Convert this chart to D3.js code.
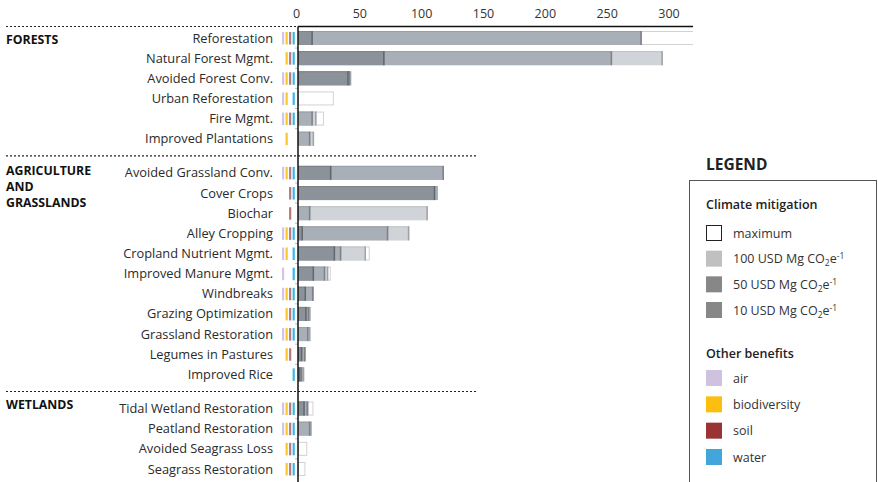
<!DOCTYPE html>
<html>
<head>
<meta charset="utf-8">
<script src="https://cdn.jsdelivr.net/npm/d3@7"></script>
<style>
  html, body { margin: 0; padding: 0; background: #fff; }
  svg { display: block; font-family: "Open Sans", "Noto Sans", sans-serif; }
</style>
</head>
<body>
<svg id="chart" width="878" height="482"></svg>
<script>
// Natural climate solutions: mitigation potential per pathway at three cost levels,
// plus the co-benefits each pathway delivers.
const groupNames = [["FORESTS"], ["AGRICULTURE", "AND", "GRASSLANDS"], ["WETLANDS"]];
const pathways = [
  "Reforestation", "Natural Forest Mgmt.", "Avoided Forest Conv.", "Urban Reforestation",
  "Fire Mgmt.", "Improved Plantations",
  "Avoided Grassland Conv.", "Cover Crops", "Biochar", "Alley Cropping",
  "Cropland Nutrient Mgmt.", "Improved Manure Mgmt.", "Windbreaks", "Grazing Optimization",
  "Grassland Restoration", "Legumes in Pastures", "Improved Rice",
  "Tidal Wetland Restoration", "Peatland Restoration", "Avoided Seagrass Loss", "Seagrass Restoration"
];
const pathwayGroup = [0,0,0,0,0,0, 1,1,1,1,1,1,1,1,1,1,1, 2,2,2,2];

// cumulative potential at each price level
const usd10  = [12, 70, 41, 0, 0, 0,   27, 111, 0, 4, 30, 13, 6.5, 7, 0, 3.5, 2,   5.5, 0, 0, 0];
const usd50  = [278, 254, 42, 0, 12, 10,   118, 111, 10, 73, 35, 22, 12.5, 9, 8.5, 6, 3.5,   8, 10, 0, 0];
const usd100 = [278, 295, 43, 0, 15, 13,   118, 113, 105, 90, 55, 24.5, 12.5, 10, 10, 6, 5,   8.5, 11, 0, 0];
const maximum = [330, 295, 43, 29, 21, 13,   118, 113, 105, 90, 58, 26.5, 12.5, 10.5, 10, 6, 5,   12.5, 11, 7.5, 6];

// co-benefits: air, biodiversity, soil, water
const benefitNames = ["air", "biodiversity", "soil", "water"];
const benefits = [
  [1,1,1,1], [0,1,1,1], [1,1,1,1], [1,1,0,1], [1,1,1,1], [0,1,0,0],
  [1,1,1,1], [0,0,1,1], [0,0,1,0], [1,1,1,1], [1,1,0,1], [1,0,0,1],
  [1,1,1,1], [0,1,1,1], [1,1,1,1], [0,1,1,0], [0,0,0,1],
  [1,1,1,1], [1,1,1,1], [0,1,1,1], [0,1,1,1]
];
const xTicks = [0, 50, 100, 150, 200, 250, 300];

const mitigationLegend = ["maximum", "100", "50", "10"];

const benefitColor = { air: "#cfc1e0", biodiversity: "#fcbf10", soil: "#9a3434", water: "#41a6da" };
const stripColor = { air: "#d2c6e4", biodiversity: "#f9c531", soil: "#b47a78", water: "#3cb7e6" };
const levelFill = { max: "#ffffff", u100: "#d0d4d9", u50: "#a9afb6", u10: "#8b9299" };
const levelEdge = { u100: "#9ea3a9", u50: "#7c8288", u10: "#62686e" };
const legendFill = { maximum: "#ffffff", "100": "#c0c0c0", "50": "#878787", "10": "#878787" };

const svg = d3.select("#chart");
const textColor = "#333";

const axisX = 298, plotRight = 693;
const x = d3.scaleLinear().domain([0, 300]).range([axisX, 669]);

// row centres: fixed step, with an extra gap between groups
const rowStep = 20.15, groupGap = 14, firstRow = 38;
const rowY = i => firstRow + rowStep * i + groupGap * pathwayGroup[i];
const barH = 14;

// separators
const groupStart = groupNames.map((g, gi) => pathwayGroup.indexOf(gi));
const sepY = groupStart.map((s, gi) => gi === 0 ? rowY(0) - 11.5 : (rowY(s - 1) + rowY(s)) / 2);
sepY.forEach((y, gi) => {
  svg.append("line")
    .attr("x1", 6).attr("x2", gi === 0 ? axisX : 477)
    .attr("y1", y).attr("y2", y)
    .attr("stroke", "#222").attr("stroke-width", 1.2)
    .attr("stroke-dasharray", "2,2");
  if (gi === 0) {
    svg.append("line")
      .attr("x1", axisX).attr("x2", plotRight)
      .attr("y1", y).attr("y2", y)
      .attr("stroke", "#111").attr("stroke-width", 1.3);
  }
});
const topY = sepY[0];

// axis tick labels
svg.append("g").selectAll("text").data(xTicks).join("text")
  .attr("x", d => x(d) - (d === 0 ? 1.5 : 0))
  .attr("y", 18)
  .attr("text-anchor", "middle")
  .attr("font-size", 12.5)
  .attr("fill", textColor)
  .text(d => d);

// group headings
groupNames.forEach((lines, gi) => {
  const y0 = sepY[gi] + (gi === 1 ? 19 : 17.5);
  lines.forEach((t, li) => {
    svg.append("text")
      .attr("x", 6).attr("y", y0 + li * 16)
      .attr("font-size", 12.3).attr("font-weight", 700)
      .attr("fill", "#111")
      .text(t);
  });
});

// pathway labels
svg.append("g").selectAll("text").data(pathways).join("text")
  .attr("x", 273)
  .attr("y", (d, i) => rowY(i) + 4.5)
  .attr("text-anchor", "end")
  .attr("font-size", 12.8)
  .attr("fill", "#2a2a2a")
  .text(d => d);

// co-benefit strips
const stripX = d3.scalePoint().domain(benefitNames).range([282, 292.6]);
const stripG = svg.append("g");
benefits.forEach((row, i) => {
  row.forEach((on, k) => {
    if (!on) return;
    stripG.append("rect")
      .attr("x", stripX(benefitNames[k]))
      .attr("y", rowY(i) - 6)
      .attr("width", 2.2).attr("height", 12.5)
      .attr("fill", stripColor[benefitNames[k]]);
  });
});

// small row ticks left of the axis
const tickG = svg.append("g");
pathways.forEach((p, i) => {
  if (i > 0 && pathwayGroup[i] === pathwayGroup[i - 1]) {
    const y = (rowY(i - 1) + rowY(i)) / 2;
    tickG.append("line").attr("x1", axisX - 3).attr("x2", axisX)
      .attr("y1", y).attr("y2", y).attr("stroke", "#bbb").attr("stroke-width", 1);
  }
});

// bars (clipped at the plot edge)
svg.append("clipPath").attr("id", "plotClip")
  .append("rect").attr("x", axisX).attr("y", 0)
  .attr("width", plotRight - axisX).attr("height", 482);
const bars = svg.append("g").attr("clip-path", "url(#plotClip)");

pathways.forEach((p, i) => {
  const y = rowY(i) - barH / 2;
  const g = bars.append("g");
  if (maximum[i] > 0) {
    g.append("rect")
      .attr("x", x(0) + 0.5).attr("y", y + 0.5)
      .attr("width", Math.max(0, x(maximum[i]) - x(0) - 1)).attr("height", barH - 1)
      .attr("fill", levelFill.max)
      .attr("stroke", "#d2d2d2").attr("stroke-width", 1);
  }
  [["u100", usd100[i]], ["u50", usd50[i]], ["u10", usd10[i]]].forEach(([key, v]) => {
    if (!(v > 0)) return;
    g.append("rect")
      .attr("x", x(0)).attr("y", y)
      .attr("width", x(v) - x(0)).attr("height", barH)
      .attr("fill", levelFill[key]);
    g.append("line")
      .attr("x1", x(0)).attr("x2", x(v))
      .attr("y1", y + 0.5).attr("y2", y + 0.5)
      .attr("stroke", levelEdge[key]).attr("stroke-opacity", 0.35);
    g.append("line")
      .attr("x1", x(v) - 0.75).attr("x2", x(v) - 0.75)
      .attr("y1", y).attr("y2", y + barH)
      .attr("stroke", levelEdge[key]).attr("stroke-width", 1.5);
  });
});

// vertical axis line
svg.append("line")
  .attr("x1", axisX).attr("x2", axisX)
  .attr("y1", topY).attr("y2", 482)
  .attr("stroke", "#111").attr("stroke-width", 1.5);

// legend
const lg = svg.append("g");
lg.append("text").attr("x", 706).attr("y", 170)
  .attr("font-size", 15.5).attr("font-weight", 700).attr("fill", "#222")
  .text("LEGEND");
lg.append("rect").attr("x", 689.5).attr("y", 180.5)
  .attr("width", 187).attr("height", 320)
  .attr("fill", "none").attr("stroke", "#555").attr("stroke-width", 1);
lg.append("text").attr("x", 706).attr("y", 209)
  .attr("font-size", 12.5).attr("font-weight", 600).attr("fill", "#222")
  .text("Climate mitigation");

const mitY = d3.scalePoint().domain(mitigationLegend).range([233, 310]);
mitigationLegend.forEach(k => {
  const cy = mitY(k);
  lg.append("rect")
    .attr("x", k === "maximum" ? 706.5 : 706).attr("y", k === "maximum" ? cy - 7.5 : cy - 8)
    .attr("width", k === "maximum" ? 15 : 16).attr("height", k === "maximum" ? 15 : 16)
    .attr("fill", legendFill[k])
    .attr("stroke", k === "maximum" ? "#222" : "none").attr("stroke-width", 1);
  const t = lg.append("text").attr("x", 733).attr("y", cy + 4.5)
    .attr("font-size", 12.5).attr("fill", textColor);
  if (k === "maximum") {
    t.text("maximum");
  } else {
    t.append("tspan").text(k + " USD Mg CO");
    t.append("tspan").attr("font-size", 8.5).attr("dy", 3).text("2");
    t.append("tspan").attr("dy", -3).text("e");
    t.append("tspan").attr("font-size", 8.5).attr("dy", -4).text("-1");
  }
});

lg.append("text").attr("x", 706).attr("y", 358)
  .attr("font-size", 12.5).attr("font-weight", 600).attr("fill", "#222")
  .text("Other benefits");
const benY = d3.scalePoint().domain(benefitNames).range([378, 457]);
benefitNames.forEach(b => {
  const cy = benY(b);
  lg.append("rect").attr("x", 706).attr("y", cy - 8)
    .attr("width", 16).attr("height", 16).attr("fill", benefitColor[b]);
  lg.append("text").attr("x", 733).attr("y", cy + 4.5)
    .attr("font-size", 12.5).attr("fill", textColor).text(b);
});
</script>
</body>
</html>
